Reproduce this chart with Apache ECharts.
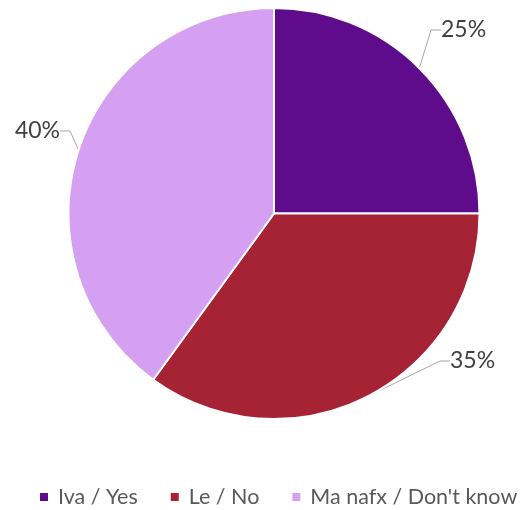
<!DOCTYPE html>
<html>
<head>
<meta charset="utf-8">
<script src="https://cdn.jsdelivr.net/npm/echarts@6/dist/echarts.min.js"></script>
<style>
html, body { margin: 0; padding: 0; background: #fff; }
#chart { width: 523px; height: 510px; }
</style>
</head>
<body>
<div id="chart"></div>
<script>
// Survey answers and their shares (percent)
const categories = ['Iva / Yes', 'Le / No', 'Ma nafx / Don\'t know'];
const shares = [25, 35, 40];
const colors = ['#5E0C8B', '#A62235', '#D59FF2'];

// Where each percentage label sits, relative to the chart box
const labelSpots = [
  { x: 441, y: 30, align: 'left' },
  { x: 450, y: 361, align: 'left' },
  { x: 60, y: 131, align: 'right' }
];

const chart = echarts.init(document.getElementById('chart'));
chart.setOption({
  animation: false,
  legend: {
    top: 486,
    left: 38,
    width: 485,
    padding: 0,
    itemWidth: 10,
    itemHeight: 10,
    itemGap: 31,
    icon: 'rect',
    textStyle: { fontFamily: 'Lato', fontSize: 21.5, color: '#595959', padding: [0, 0, 0, 4] },
    data: categories
  },
  series: [{
    type: 'pie',
    center: [274, 213.5],
    radius: 205.5,
    startAngle: 90,
    clockwise: true,
    data: categories.map((name, i) => ({ name, value: shares[i], itemStyle: { color: colors[i] } })),
    itemStyle: { borderColor: '#fff', borderWidth: 2 },
    label: {
      show: true,
      formatter: p => p.value + '%',
      fontFamily: 'Lato',
      fontSize: 23,
      color: '#404040',
      overflow: 'none',
      edgeDistance: 0
    },
    labelLine: { show: true, length: 12, length2: 10, lineStyle: { color: '#A6A6A6', width: 1 } },
    labelLayout: p => {
      const s = labelSpots[p.dataIndex];
      return { x: s.x, y: s.y, align: s.align, verticalAlign: 'middle' };
    },
    emphasis: { disabled: true }
  }]
});
</script>
</body>
</html>
